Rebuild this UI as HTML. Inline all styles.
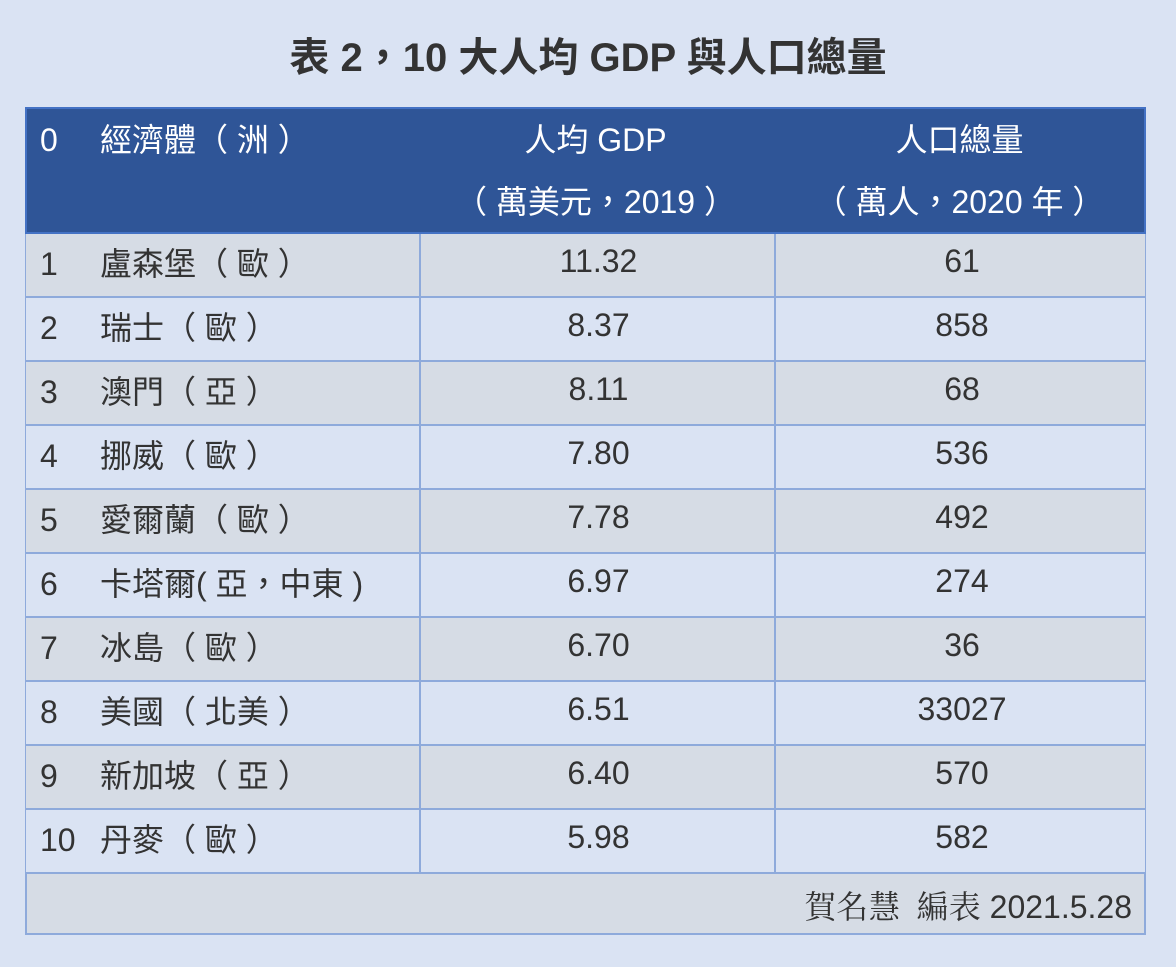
<!DOCTYPE html>
<html><head><meta charset="utf-8">
<style>
body{margin:0;width:1176px;height:967px;background:#dae3f3;font-family:"Liberation Sans","Noto Sans CJK TC",sans-serif;position:relative;overflow:hidden}
.a{position:absolute;box-sizing:border-box}
.title{left:0;width:1176px;top:30px;text-align:center;font-size:40px;font-weight:bold;color:#333;line-height:56px}
.hdr{left:25px;top:107px;width:1121px;height:127px;background:#2f5597;border:2px solid #4472c4}
.ht{color:#fff;font-size:32px;line-height:40px}
.row{left:25px;width:1121px;height:64px;border:1px solid #8eaadb;border-top:none;border-bottom:2px solid #8eaadb}
.c{position:absolute;top:0;height:62px;line-height:60px;font-size:32px;color:#333}
.v1{left:393px;width:355px;text-align:center;border-left:2px solid #8eaadb}
.v2{left:748px;width:372px;text-align:center;border-left:2px solid #8eaadb}
</style></head><body>
<div class="a title">表 2，10 大人均 GDP 與人口總量</div>
<div class="a hdr"></div>
<div class="a ht" style="left:40px;top:120px">0</div>
<div class="a ht" style="left:100px;top:120px">經濟體（ 洲 ）</div>
<div class="a ht" style="left:418px;width:355px;text-align:center;top:120px">人均 GDP</div>
<div class="a ht" style="left:418px;width:355px;text-align:center;top:182px">（ 萬美元，2019 ）</div>
<div class="a ht" style="left:773px;width:373px;text-align:center;top:120px">人口總量</div>
<div class="a ht" style="left:773px;width:373px;text-align:center;top:182px">（ 萬人，2020 年 ）</div>
<div id="rows"></div>
<div class="a" style="left:25px;top:874px;width:1121px;height:61px;background:#d6dce5;border:2px solid #8eaadb;border-top:none"></div>
<div class="a" style="left:700px;width:432px;top:880px;text-align:right;font-size:32px;line-height:50px;color:#333"><span style="font-family:'Noto Serif CJK TC','Noto Serif CJK SC',serif">賀名慧 &nbsp;編表</span> 2021.5.28</div>
<script>
const names=["盧森堡（ 歐 ）","瑞士（ 歐 ）","澳門（ 亞 ）","挪威（ 歐 ）","愛爾蘭（ 歐 ）","卡塔爾( 亞，中東 )","冰島（ 歐 ）","美國（ 北美 ）","新加坡（ 亞 ）","丹麥（ 歐 ）"];
const gdp=["11.32","8.37","8.11","7.80","7.78","6.97","6.70","6.51","6.40","5.98"];
const pop=["61","858","68","536","492","274","36","33027","570","582"];
const host=document.getElementById('rows');
names.forEach((n,i)=>{
 const r=document.createElement('div');
 r.className='a row';
 
 
 r.style.top=(234+i*64)+'px';
 r.style.background=i%2===0?'#d6dce5':'#dae3f3';
 r.innerHTML=`<div class="c" style="left:14px">${i+1}</div><div class="c" style="left:74px">${n}</div><div class="c v1" style="line-height:54px">${gdp[i]}</div><div class="c v2" style="line-height:54px">${pop[i]}</div>`;
 host.appendChild(r);
});
</script>
</body></html>
